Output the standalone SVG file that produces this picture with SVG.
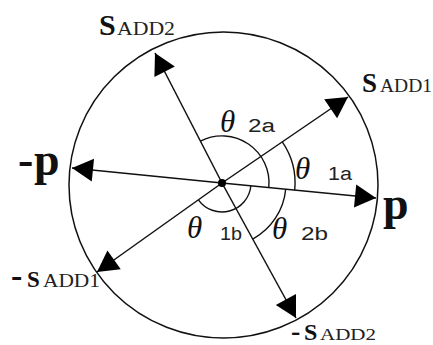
<svg xmlns="http://www.w3.org/2000/svg" width="433" height="345" viewBox="0 0 433 345">
<style>
.ln{stroke:#111;stroke-width:1.5;fill:none}
.arc{stroke:#111;stroke-width:1.4;fill:none}
.big{font-family:"Liberation Serif",serif;font-weight:bold;fill:#111}
.sub{font-family:"Liberation Serif",serif;fill:#222}
.th{font-family:"Liberation Serif",serif;font-style:italic;fill:#111;font-size:31px}
.ix{font-family:"Liberation Sans",sans-serif;fill:#222;font-size:18px}
</style>
<defs>
<marker id="ah" viewBox="-22 -12 23 24" markerWidth="23" markerHeight="24" refX="0" refY="0" markerUnits="userSpaceOnUse" orient="auto">
<path d="M0,0 L-21,-11.5 L-21,11.5 Z" fill="#000"/>
</marker>
</defs>
<rect width="433" height="345" fill="#fff"/>
<g id="circle"><ellipse cx="223.5" cy="185" rx="154.5" ry="153" class="ln"/></g>
<g id="connectors">
<line x1="222" y1="183" x2="376" y2="198" class="ln" marker-end="url(#ah)"/>
<line x1="222" y1="183" x2="72" y2="168" class="ln" marker-end="url(#ah)"/>
<line x1="222" y1="183" x2="348" y2="97" class="ln" marker-end="url(#ah)"/>
<line x1="222" y1="183" x2="97" y2="272" class="ln" marker-end="url(#ah)"/>
<line x1="222" y1="183" x2="155" y2="53" class="ln" marker-end="url(#ah)"/>
<line x1="222" y1="183" x2="296" y2="318" class="ln" marker-end="url(#ah)"/>
</g>
<g id="arcs">
<path d="M282.3,141.9 A73,73 0 0 1 294.7,190.1" class="arc"/>
<path d="M200.4,141.2 A47,47 0 0 1 268.8,187.6" class="arc"/>
<path d="M198.4,199.8 A29,29 0 0 0 250.9,185.8" class="arc"/>
<path d="M252.8,239.1 A64,64 0 0 0 285.7,189.2" class="arc"/>
</g>
<g id="center"><circle cx="222" cy="183" r="4" fill="#000"/></g>
<g id="label-p"><text class="big" x="383" y="219" font-size="46">p</text></g>
<g id="label-minus-p"><text class="big" font-size="46" y="175"><tspan x="18">-</tspan><tspan x="34">p</tspan></text></g>
<g id="label-sadd1"><text y="92"><tspan class="big" x="362" font-size="27">S</tspan><tspan class="sub" x="380" font-size="18" textLength="52" lengthAdjust="spacingAndGlyphs">ADD1</tspan></text></g>
<g id="label-sadd2"><text y="35"><tspan class="big" x="99" font-size="30">S</tspan><tspan class="sub" x="117" font-size="18" textLength="58" lengthAdjust="spacingAndGlyphs">ADD2</tspan></text></g>
<g id="label-minus-sadd1"><text y="287"><tspan class="big" x="11" font-size="34">-</tspan><tspan class="big" x="27" font-size="23">S</tspan><tspan class="sub" x="43" font-size="18" textLength="57" lengthAdjust="spacingAndGlyphs">ADD1</tspan></text></g>
<g id="label-minus-sadd2"><text y="340"><tspan class="big" x="291" font-size="28">-</tspan><tspan class="big" x="304" font-size="24">S</tspan><tspan class="sub" x="320" font-size="17" textLength="56" lengthAdjust="spacingAndGlyphs">ADD2</tspan></text></g>
<g id="theta-2a"><text class="th" x="220" y="132">θ</text><text class="ix" x="248" y="132" textLength="27" lengthAdjust="spacingAndGlyphs">2a</text></g>
<g id="theta-1a"><text class="th" x="295" y="179">θ</text><text class="ix" x="328" y="180" textLength="24" lengthAdjust="spacingAndGlyphs">1a</text></g>
<g id="theta-1b"><text class="th" x="187" y="238">θ</text><text class="ix" x="220" y="240" textLength="22" lengthAdjust="spacingAndGlyphs">1b</text></g>
<g id="theta-2b"><text class="th" x="272" y="239">θ</text><text class="ix" x="301" y="240" textLength="27" lengthAdjust="spacingAndGlyphs">2b</text></g>
</svg>
